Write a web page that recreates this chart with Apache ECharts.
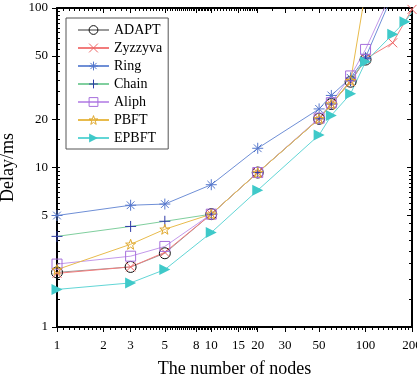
<!DOCTYPE html>
<html>
<head>
<meta charset="utf-8">
<script src="https://cdn.jsdelivr.net/npm/echarts@6/dist/echarts.min.js"></script>
<style>
  html, body { margin: 0; padding: 0; background: #fff; }
  #chart { width: 417px; height: 380px; }
</style>
</head>
<body>
<div id="chart"></div>
<script>
// number of nodes (x) and delay in ms (y)
const nodes = [1, 3, 5, 10, 20, 50, 60, 80, 100, 150, 200];
const epbftNodes = [1, 3, 5, 10, 20, 50, 60, 80, 100, 150, 180, 200];

const adapt = [2.2, 2.38, 2.9, 5.1, 9.3, 20.2, 25.0, 34.5, 47.5];
const zyzzyva = [2.17, 2.38, 2.94, 5.1, 9.3, 20.2, 25.0, 34.5, 48.0, 60.5, 98];
const ring = [5.0, 5.8, 5.9, 7.8, 13.2, 23.3, 28.3, 36.5, 49.0, 122];
const chain = [3.7, 4.27, 4.6, 5.1, 9.3, 20.2, 25.0, 35.0, 48.0];
const aliph = [2.48, 2.78, 3.2, 5.1, 9.3, 20.4, 25.5, 37.5, 55.0, 130];
const pbft = [2.29, 3.3, 4.1, 5.1, 9.3, 20.2, 25.0, 35.0, 128];
const epbft = [1.72, 1.89, 2.29, 3.91, 7.2, 16.0, 21.2, 29.0, 46.0, 68.5, 82, 94];

const xTickLabels = [1, 2, 3, 5, 8, 10, 15, 20, 30, 50, 100, 200];
const yTickLabels = [1, 5, 10, 20, 50, 100];

// minor tick positions
const xMinor = [];
const yMinor = [];
for (let v = 1.1; v < 2; v += 0.1) xMinor.push(+v.toFixed(2));
for (let v = 2; v < 10; v += 0.2) xMinor.push(+v.toFixed(2));
for (let v = 10; v < 20; v += 0.5) xMinor.push(+v.toFixed(2));
for (let v = 20; v < 100; v += 5) xMinor.push(v);
for (let v = 100; v <= 200; v += 10) xMinor.push(v);
for (let v = 1.5; v < 10; v += 0.5) yMinor.push(+v.toFixed(2));
for (let v = 10; v <= 100; v += 5) yMinor.push(v);

const pairs = (xs, ys) => ys.map((y, i) => [xs[i], y]);

const font = 'Liberation Serif';
const chartDom = document.getElementById('chart');
const myChart = echarts.init(chartDom, undefined, { renderer: 'canvas' });

const gridRect = { left: 57, right: 5, top: 8, bottom: 53, outerBoundsMode: 'none', containLabel: false };

const hollow = (c) => ({ color: 'transparent', borderColor: c, borderWidth: 1 });

const markers = {
  ADAPT: { symbol: 'circle', size: 11, style: hollow('#111') },
  Zyzzyva: { symbol: 'path://M0,0L10,10M10,0L0,10', size: 9, style: hollow('#ee6666') },
  Ring: { symbol: 'path://M5,0L5,10M0,5L10,5M1.5,1.5L8.5,8.5M8.5,1.5L1.5,8.5', size: 11, style: hollow('#5577cc') },
  Chain: { symbol: 'path://M5,0L5,10M0,5L10,5', size: 11, style: hollow('#2e3aa8') },
  Aliph: { symbol: 'rect', size: 10, style: hollow('#a66fdc') },
  PBFT: {
    symbol: 'path://M5,0L6.176,3.382L9.755,3.455L6.902,5.618L7.939,9.045L5,7L2.061,9.045L3.098,5.618L0.245,3.455L3.824,3.382Z',
    size: 10, style: hollow('#e0a82c')
  },
  EPBFT: { symbol: 'triangle', size: 11, style: { color: '#3fc9c9', borderWidth: 0 } }
};

const mkSeries = (name, data, lineColor, extra) =>
  Object.assign({
    name: name,
    type: 'line',
    data: data,
    symbol: markers[name].symbol,
    symbolSize: markers[name].size,
    lineStyle: { color: lineColor, width: 1 },
    itemStyle: markers[name].style,
    emphasis: { disabled: true },
    animation: false
  }, extra || {});

// EPBFT: last segment runs into the corner without a marker
const epbftData = pairs(epbftNodes, epbft);
epbftData[epbftData.length - 1] = { value: epbftData[epbftData.length - 1], symbol: 'none' };

const xBase = {
  type: 'log',
  logBase: 10,
  min: 1,
  max: 200,
  splitLine: { show: false },
  minorTick: { show: false }
};
const yBase = {
  type: 'log',
  logBase: 10,
  min: 1,
  max: 100,
  splitLine: { show: false },
  minorTick: { show: false }
};
const axisLine = { show: true, lineStyle: { color: '#000', width: 2 } };

const legendNames = ['ADAPT', 'Zyzzyva', 'Ring', 'Chain', 'Aliph', 'PBFT', 'EPBFT'];

const option = {
  backgroundColor: '#fff',
  animation: false,
  grid: [
    Object.assign({}, gridRect),
    Object.assign({}, gridRect)
  ],
  legend: {
    left: 66,
    top: 18,
    orient: 'vertical',
    borderColor: '#555',
    borderWidth: 1,
    padding: [5, 6, 4, 11],
    itemWidth: 31,
    itemHeight: 11,
    itemGap: 4,
    textStyle: { fontFamily: font, fontSize: 14, color: '#000' },
    data: legendNames.map((n) => ({ name: n, itemStyle: markers[n].style }))
  },
  xAxis: [
    Object.assign({}, xBase, {
      gridIndex: 0,
      position: 'bottom',
      name: 'The number of nodes',
      nameLocation: 'middle',
      nameGap: 33,
      nameTextStyle: { fontFamily: font, fontSize: 18, color: '#000' },
      axisLine: axisLine,
      axisTick: { show: true, inside: false, length: 5, customValues: xTickLabels, lineStyle: { color: '#000', width: 1 } },
      axisLabel: { show: true, customValues: xTickLabels, margin: 12, fontFamily: font, fontSize: 13, color: '#000' }
    }),
    Object.assign({}, xBase, {
      gridIndex: 0,
      position: 'top',
      axisLine: axisLine,
      axisTick: { show: true, inside: true, length: 5, customValues: xTickLabels, lineStyle: { color: '#000', width: 1 } },
      axisLabel: { show: false }
    }),
    Object.assign({}, xBase, {
      gridIndex: 1,
      position: 'bottom',
      axisLine: { show: false },
      axisTick: { show: true, inside: false, length: 3, customValues: xMinor, lineStyle: { color: '#000', width: 1 } },
      axisLabel: { show: false }
    }),
    Object.assign({}, xBase, {
      gridIndex: 1,
      position: 'top',
      axisLine: { show: false },
      axisTick: { show: true, inside: true, length: 3, customValues: xMinor, lineStyle: { color: '#000', width: 1 } },
      axisLabel: { show: false }
    })
  ],
  yAxis: [
    Object.assign({}, yBase, {
      gridIndex: 0,
      position: 'left',
      name: 'Delay/ms',
      nameLocation: 'middle',
      nameGap: 29,
      nameTextStyle: { fontFamily: font, fontSize: 18, color: '#000' },
      axisLine: axisLine,
      axisTick: { show: true, inside: false, length: 5, customValues: yTickLabels, lineStyle: { color: '#000', width: 1 } },
      axisLabel: { show: true, customValues: yTickLabels, margin: 9, fontFamily: font, fontSize: 13, color: '#000' }
    }),
    Object.assign({}, yBase, {
      gridIndex: 0,
      position: 'right',
      axisLine: axisLine,
      axisTick: { show: true, inside: true, length: 5, customValues: yTickLabels, lineStyle: { color: '#000', width: 1 } },
      axisLabel: { show: false }
    }),
    Object.assign({}, yBase, {
      gridIndex: 1,
      position: 'left',
      axisLine: { show: false },
      axisTick: { show: true, inside: true, length: 3, customValues: yMinor, lineStyle: { color: '#000', width: 1 } },
      axisLabel: { show: false }
    }),
    Object.assign({}, yBase, {
      gridIndex: 1,
      position: 'right',
      axisLine: { show: false },
      axisTick: { show: true, inside: true, length: 3, customValues: yMinor, lineStyle: { color: '#000', width: 1 } },
      axisLabel: { show: false }
    })
  ],
  series: [
    mkSeries('ADAPT', pairs(nodes, adapt), '#9a9a9a'),
    mkSeries('Zyzzyva', pairs(nodes, zyzzyva), '#f27c7c'),
    mkSeries('Ring', pairs(nodes, ring), '#6f8fd6'),
    mkSeries('Chain', pairs(nodes, chain), '#80cf9e'),
    mkSeries('Aliph', pairs(nodes, aliph), '#c399ea'),
    mkSeries('PBFT', pairs(nodes, pbft), '#e8bb4c'),
    mkSeries('EPBFT', epbftData, '#62d6d6', { symbolRotate: -90 })
  ]
};

if (option && typeof option === 'object') {
  myChart.setOption(option);
}
window.addEventListener('resize', () => {
  myChart.resize();
});
</script>
</body>
</html>
